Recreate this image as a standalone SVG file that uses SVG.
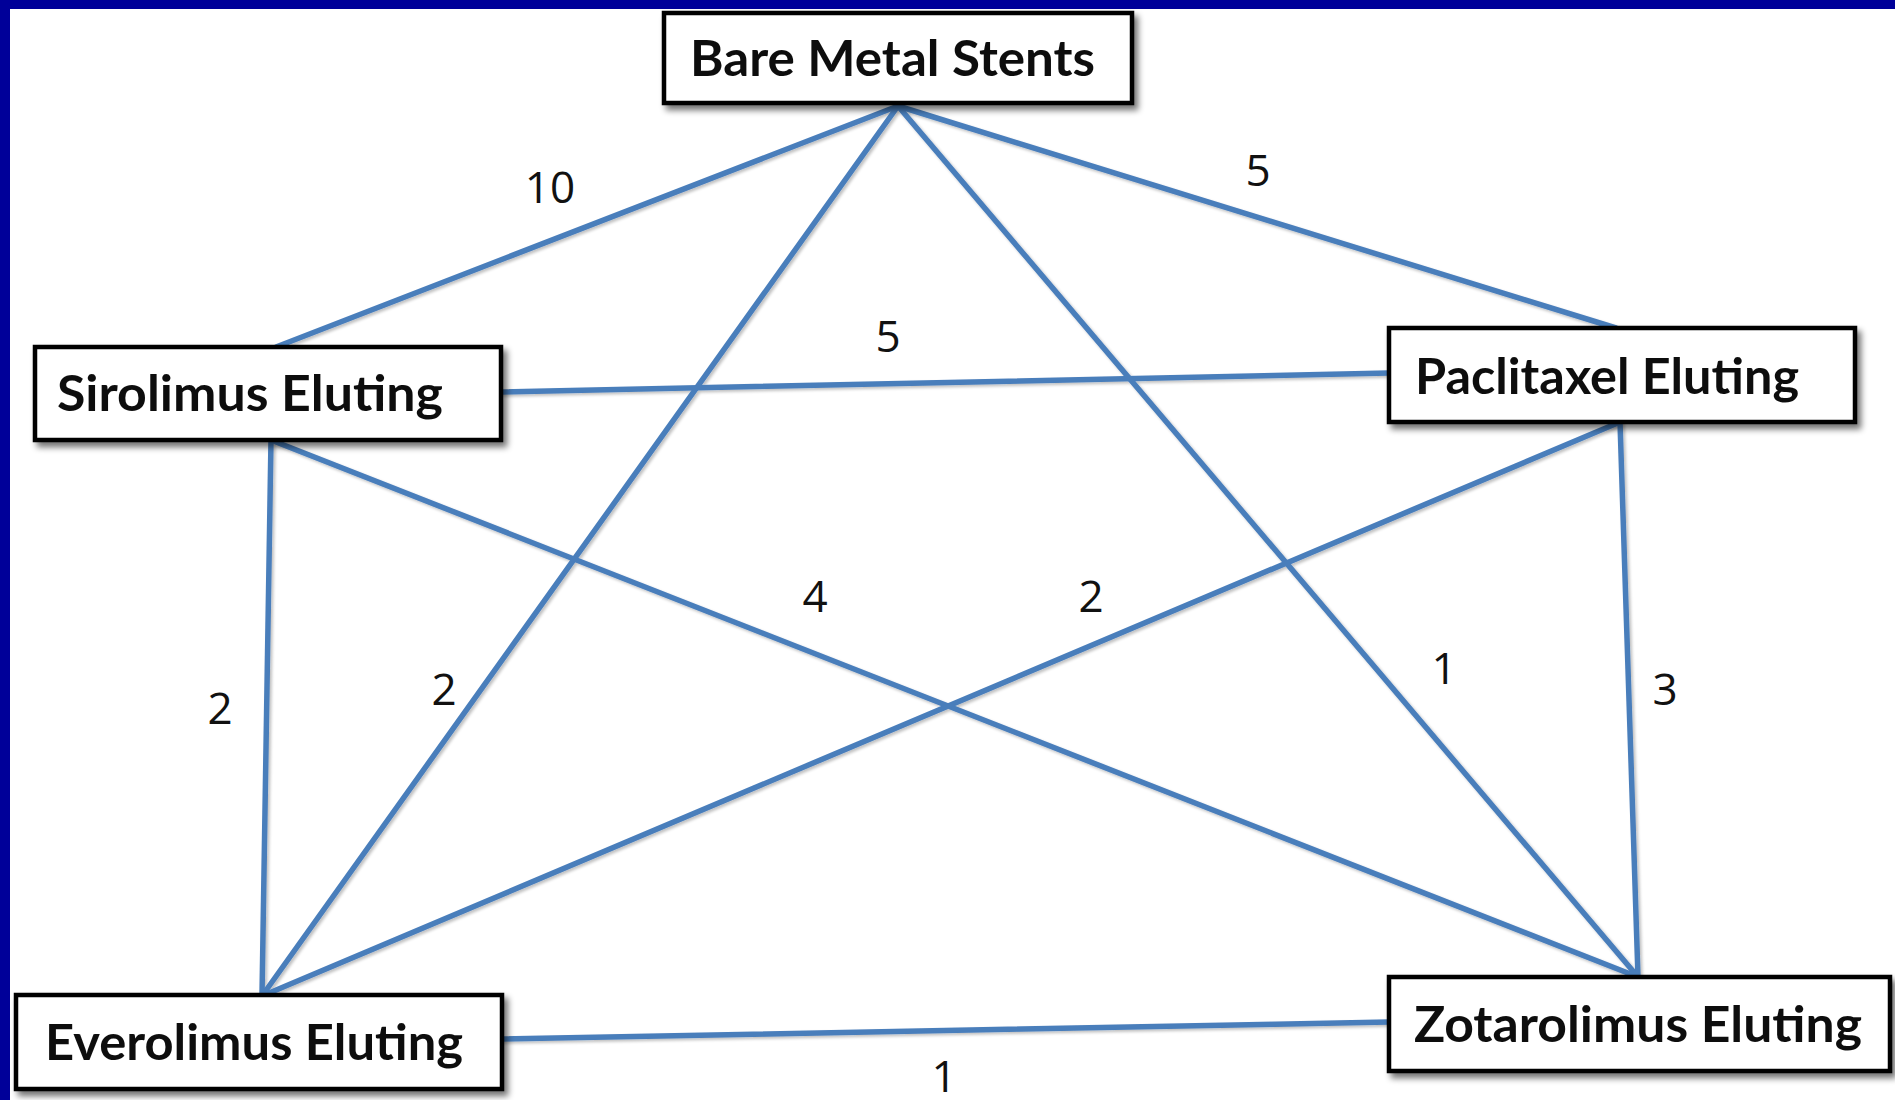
<svg xmlns="http://www.w3.org/2000/svg" width="1895" height="1100" viewBox="0 0 1895 1100">
<defs>
<filter id="sh" x="-5%" y="-20%" width="115%" height="160%">
<feGaussianBlur in="SourceAlpha" stdDeviation="3"/>
<feOffset dx="4" dy="5" result="b"/>
<feComponentTransfer><feFuncA type="linear" slope="0.55"/></feComponentTransfer>
<feMerge><feMergeNode/><feMergeNode in="SourceGraphic"/></feMerge>
</filter>
<filter id="lsh" x="-5%" y="-5%" width="110%" height="110%">
<feGaussianBlur in="SourceAlpha" stdDeviation="1.5"/>
<feOffset dx="2" dy="2" result="b"/>
<feComponentTransfer><feFuncA type="linear" slope="0.25"/></feComponentTransfer>
<feMerge><feMergeNode/><feMergeNode in="SourceGraphic"/></feMerge>
</filter>
</defs>
<style>
.box{fill:#ffffff;stroke:#000000;stroke-width:4.5}
.nt{font-family:Lato,"Liberation Sans",sans-serif;font-weight:bold;font-size:50px;fill:#111111}
.edge{stroke:#4a7ebb;stroke-width:5.5;fill:none;stroke-linecap:round}
.lbl{font-family:"Open Sans","Liberation Sans",sans-serif;font-size:44px;fill:#111111;text-anchor:middle}
</style>
<rect x="0" y="0" width="1895" height="1100" fill="#ffffff"/>
<rect x="0" y="0" width="1895" height="9" fill="#000099"/>
<rect x="0" y="0" width="10" height="1100" fill="#000099"/>

<g id="connectors" filter="url(#lsh)">
<line class="edge" x1="898" y1="106" x2="276" y2="347"/>
<line class="edge" x1="898" y1="106" x2="1616" y2="328"/>
<line class="edge" x1="898" y1="106" x2="262" y2="996"/>
<line class="edge" x1="898" y1="106" x2="1638" y2="977"/>
<line class="edge" x1="502" y1="392" x2="1389" y2="373"/>
<line class="edge" x1="271" y1="440" x2="262" y2="996"/>
<line class="edge" x1="271" y1="440" x2="1638" y2="977"/>
<line class="edge" x1="1620" y1="422" x2="262" y2="996"/>
<line class="edge" x1="1620" y1="422" x2="1638" y2="977"/>
<line class="edge" x1="502" y1="1039" x2="1389" y2="1022"/>
</g>

<g id="labels">
<text class="lbl" x="550" y="203">10</text>
<text class="lbl" x="1258" y="186">5</text>
<text class="lbl" x="888" y="352">5</text>
<text class="lbl" x="220" y="724">2</text>
<text class="lbl" x="444" y="705">2</text>
<text class="lbl" x="815" y="612">4</text>
<text class="lbl" x="1091" y="612">2</text>
<text class="lbl" x="1444" y="684">1</text>
<text class="lbl" x="1665" y="705">3</text>
<text class="lbl" x="944" y="1092">1</text>
</g>

<g id="node-bms" filter="url(#sh)">
<rect class="box" x="664" y="13" width="468" height="90"/>
<text class="nt" x="690" y="76" textLength="405" lengthAdjust="spacingAndGlyphs">Bare Metal Stents</text>
</g>
<g id="node-sirolimus" filter="url(#sh)">
<rect class="box" x="35" y="347" width="466" height="93"/>
<text class="nt" x="57" y="411" textLength="386" lengthAdjust="spacingAndGlyphs">Sirolimus Eluting</text>
</g>
<g id="node-paclitaxel" filter="url(#sh)">
<rect class="box" x="1389" y="328" width="466" height="94"/>
<text class="nt" x="1415" y="394" textLength="384" lengthAdjust="spacingAndGlyphs">Paclitaxel Eluting</text>
</g>
<g id="node-everolimus" filter="url(#sh)">
<rect class="box" x="16" y="995" width="486" height="94"/>
<text class="nt" x="45" y="1060" textLength="418" lengthAdjust="spacingAndGlyphs">Everolimus Eluting</text>
</g>
<g id="node-zotarolimus" filter="url(#sh)">
<rect class="box" x="1389" y="977" width="501" height="94"/>
<text class="nt" x="1414" y="1042" textLength="448" lengthAdjust="spacingAndGlyphs">Zotarolimus Eluting</text>
</g>
</svg>
